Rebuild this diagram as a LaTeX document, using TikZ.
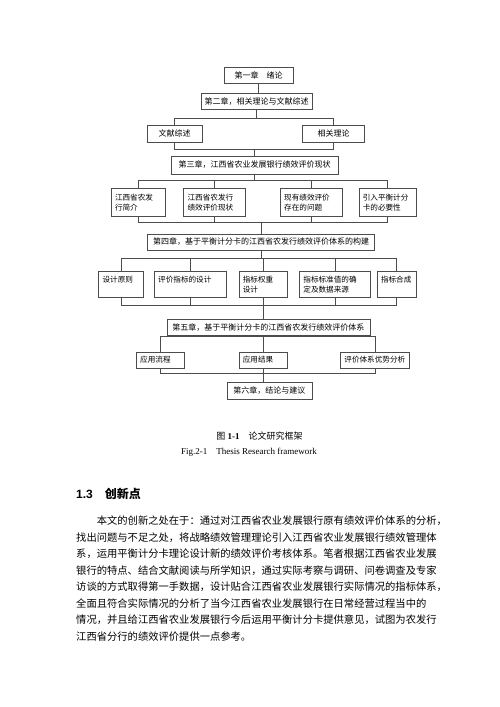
\documentclass[tikz,border=0pt]{standalone}
\usepackage{fontspec}
\setmainfont{Liberation Serif}
\setsansfont{Liberation Sans}
\newfontfamily\cjk{Noto Sans CJK SC}
\usepackage{tikz}
\usetikzlibrary{positioning}
\tikzset{
  chap/.style={
    draw=black!70,
    line width=0.6pt,
    align=center,
    inner sep=0pt,
    minimum height=16pt,
    font=\cjk\fontsize{8}{10}\selectfont
  },
  part/.style={
    draw=black!70,
    line width=0.6pt,
    align=left,
    inner xsep=4pt,
    inner ysep=0pt,
    font=\cjk\fontsize{7.6}{10.5}\selectfont
  },
  link/.style={draw=black!70, line width=0.6pt},
  caption/.style={inner sep=0pt, font=\fontsize{9}{11}\selectfont},
  para/.style={inner sep=0pt, anchor=west, font=\cjk\fontsize{10.3}{12}\selectfont}
}

\begin{document}
\begin{tikzpicture}[x=1pt, y=-1pt]
  \fill[white] (0,0) rectangle (500,707);
  \useasboundingbox (0,0) rectangle (500,707);

  % chapters and their parts
  \node[chap, minimum width=69pt] (ch1) at (258.5,75) {第一章　绪论};
  \node[chap, minimum width=111pt, below=10pt of ch1, xshift=-2pt] (ch2) {第二章，相关理论与文献综述};
  \node[chap, minimum width=55pt, minimum height=17pt, below=15pt of ch2, xshift=-82pt] (lit) {文献综述};
  \node[chap, minimum width=62pt, minimum height=17pt, right=100pt of lit] (theory) {相关理论};
  \node[chap, minimum width=167pt, minimum height=18pt, below=13pt of lit, xshift=80pt] (ch3) {第三章，江西省农业发展银行绩效评价现状};

  \node[part, text width=46pt, minimum height=28pt, below=14pt of ch3, xshift=-116.5pt] (a1) {江西省农发\\行简介};
  \node[part, text width=54pt, minimum height=28pt, right=18pt of a1] (a2) {江西省农发行\\绩效评价现状};
  \node[part, text width=54pt, minimum height=28pt, right=34pt of a2] (a3) {现有绩效评价\\存在的问题};
  \node[part, text width=49pt, minimum height=28pt, right=16pt of a3] (a4) {引入平衡计分\\卡的必要性};
  \node[chap, minimum width=227pt, below=17pt of a2, xshift=46.5pt] (ch4) {第四章，基于平衡计分卡的江西省农发行绩效评价体系的构建};

  \node[part, text width=37pt, minimum height=26pt, below=21pt of ch4, xshift=-140pt] (b1) {设计原则\\~};
  \node[part, text width=64pt, minimum height=26pt, right=10pt of b1] (b2) {评价指标的设计\\~};
  \node[part, text width=40pt, minimum height=26pt, right=12pt of b2] (b3) {指标权重\\设计};
  \node[part, text width=63pt, minimum height=26pt, right=12pt of b3] (b4) {指标标准值的确\\定及数据来源};
  \node[part, text width=31pt, minimum height=26pt, right=6pt of b4] (b5) {指标合成\\~};
  \node[chap, minimum width=203pt, below=21pt of b3, xshift=5.5pt] (ch5) {第五章，基于平衡计分卡的江西省农发行绩效评价体系};

  \node[part, text width=40pt, minimum height=16pt, below=16pt of ch5, xshift=-5.5pt] (c2) {应用结果};
  \node[part, text width=40pt, minimum height=16pt, left=54pt of c2] (c1) {应用流程};
  \node[part, text width=61pt, minimum height=16pt, right=53pt of c2] (c3) {评价体系优势分析};
  \node[chap, minimum width=85pt, minimum height=17pt, below=14pt of c2, xshift=6.5pt] (ch6) {第六章，结论与建议};

  % bus lines
  \coordinate (busT) at (0,118);
  \coordinate (busL) at (0,149);
  \coordinate (busA) at (0,180);
  \coordinate (busAb) at (0,222);
  \coordinate (busB) at (0,258);
  \coordinate (busBb) at (0,305);
  \coordinate (busC) at (0,336);
  \coordinate (busCb) at (0,373);

  \draw[link] (ch1.south) -- (ch1.south |- ch2.north);
  \draw[link] (ch2.south) -- (ch2.south |- busT);
  \draw[link] (lit.north) |- (theory.north |- busT) -- (theory.north);
  \draw[link] (lit.south) |- (theory.south |- busL) -- (theory.south);
  \draw[link] (ch3.north) -- (ch3.north |- busL);

  \draw[link] (ch3.south) -- (ch3.south |- busA);
  \draw[link] (a1.north) |- (a4.north |- busA) -- (a4.north);
  \draw[link] (a2.north) -- (a2.north |- busA);
  \draw[link] (a3.north) -- (a3.north |- busA);
  \draw[link] (a1.south) |- (a4.south |- busAb) -- (a4.south);
  \draw[link] (a2.south) -- (a2.south |- busAb);
  \draw[link] (a3.south) -- (a3.south |- busAb);
  \draw[link] (ch4.north) -- (ch4.north |- busAb);

  \draw[link] (ch4.south) -- (ch4.south |- busB);
  \draw[link] (b1.north) |- (b5.north |- busB) -- (b5.north);
  \draw[link] (b2.north) -- (b2.north |- busB);
  \draw[link] (b3.north) -- (b3.north |- busB);
  \draw[link] (b4.north) -- (b4.north |- busB);
  \draw[link] (b1.south) |- (b5.south |- busBb) -- (b5.south);
  \draw[link] (b2.south) -- (b2.south |- busBb);
  \draw[link] (b4.south) -- (b4.south |- busBb);
  \draw[link] (b3.south) -- (b3.south |- ch5.north);

  \draw[link] (c2.north) -- (c2.north |- ch5.south);
  \draw[link] (c1.north) |- (c3.north |- busC) -- (c3.north);
  \draw[link] (c1.south) |- (c3.south |- busCb) -- (c3.south);
  \draw[link] (c2.south) -- (c2.south |- ch6.north);

  % caption
  \node[caption] (capcn) at (259.5,436) {{\cjk 图} \textbf{1-1}\quad{\cjk 论文研究框架}};
  \node[caption] (capen) at (249,452) {Fig.2-1\quad Thesis Research framework};

  % section text
  \node[inner sep=0pt, anchor=west] (head) at (76,494)
    {\fontsize{12}{14}\selectfont\sffamily\bfseries 1.3\quad{\cjk\bfseries 创新点}};
  \node[para] (par1) at (96.6,521) {本文的创新之处在于：通过对江西省农业发展银行原有绩效评价体系的分析，};
  \node[para] (par2) at (76,537.5) {找出问题与不足之处，将战略绩效管理理论引入江西省农业发展银行绩效管理体};
  \node[para] (par3) at (76,554) {系，运用平衡计分卡理论设计新的绩效评价考核体系。笔者根据江西省农业发展};
  \node[para] (par4) at (76,570.5) {银行的特点、结合文献阅读与所学知识，通过实际考察与调研、问卷调查及专家};
  \node[para] (par5) at (76,587) {访谈的方式取得第一手数据，设计贴合江西省农业发展银行实际情况的指标体系，};
  \node[para] (par6) at (76,603.5) {全面且符合实际情况的分析了当今江西省农业发展银行在日常经营过程当中的};
  \node[para] (par7) at (76,620) {情况，并且给江西省农业发展银行今后运用平衡计分卡提供意见，试图为农发行};
  \node[para] (par8) at (76,636.5) {江西省分行的绩效评价提供一点参考。};
\end{tikzpicture}
\end{document}
